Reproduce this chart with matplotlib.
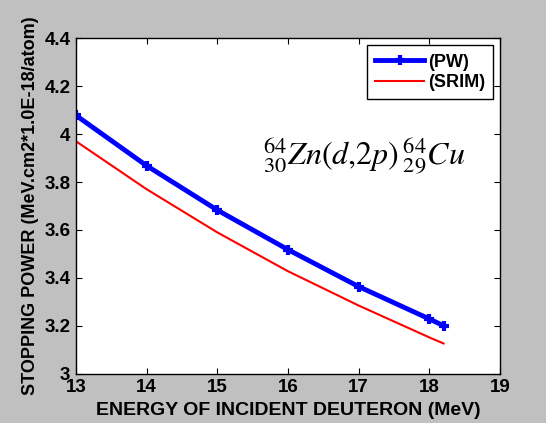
import matplotlib
matplotlib.use("Agg")
import matplotlib.pyplot as plt

# energy (MeV) and stopping power values
energy = [13, 14, 15, 16, 17, 18, 18.2]
pw_power = [4.078, 3.868, 3.683, 3.518, 3.364, 3.229, 3.201]
srim_power = [3.97, 3.77, 3.59, 3.428, 3.285, 3.152, 3.127]

x_ticks = [13, 14, 15, 16, 17, 18, 19]
y_ticks = [3, 3.2, 3.4, 3.6, 3.8, 4, 4.2, 4.4]
y_tick_labels = ["3", "3.2", "3.4", "3.6", "3.8", "4", "4.2", "4.4"]

plt.rcParams["font.family"] = ["Liberation Sans", "DejaVu Sans"]
plt.rcParams["mathtext.fontset"] = "stix"

fig = plt.figure(figsize=(5.46, 4.23), dpi=100, facecolor="#c0c0c0")
ax = fig.add_axes([0.139, 0.116, 0.777, 0.794])

ax.plot(energy, pw_power, color="blue", linewidth=3.5, marker="+",
        markersize=7, markeredgewidth=3, label="(PW)")
ax.plot(energy, srim_power, color="red", linewidth=1.5, label="(SRIM)")

ax.set_xlim(13, 19)
ax.set_ylim(3, 4.4)
ax.set_xticks(x_ticks)
ax.set_yticks(y_ticks)
ax.set_yticklabels(y_tick_labels)
ax.tick_params(direction="in", top=True, right=True, labelsize=13.5, length=4, pad=4)
for lbl in ax.get_xticklabels() + ax.get_yticklabels():
    lbl.set_fontweight("bold")

ax.set_xlabel("ENERGY OF INCIDENT DEUTERON (MeV)", fontsize=14, fontweight="bold", labelpad=4)
ax.set_ylabel("STOPPING POWER (MeV.cm2*1.0E-18/atom)", fontsize=13, fontweight="bold", labelpad=4)

ax.text(0.68, 0.645, r"${}^{64}_{30}Zn(d{,}2p)\,{}^{64}_{29}Cu$", transform=ax.transAxes,
        fontsize=23, ha="center", va="center")

leg = ax.legend(loc="upper right", prop={"size": 13, "weight": "bold"}, frameon=True,
                fancybox=False, edgecolor="black", framealpha=1, borderpad=0.45,
                handlelength=2.7, labelspacing=0.2, handletextpad=0.2, borderaxespad=0,
                bbox_to_anchor=(0.983, 0.978))
leg.get_frame().set_linewidth(1)

for s in ax.spines.values():
    s.set_linewidth(1)

fig.savefig("out.png", dpi=100, facecolor=fig.get_facecolor())
